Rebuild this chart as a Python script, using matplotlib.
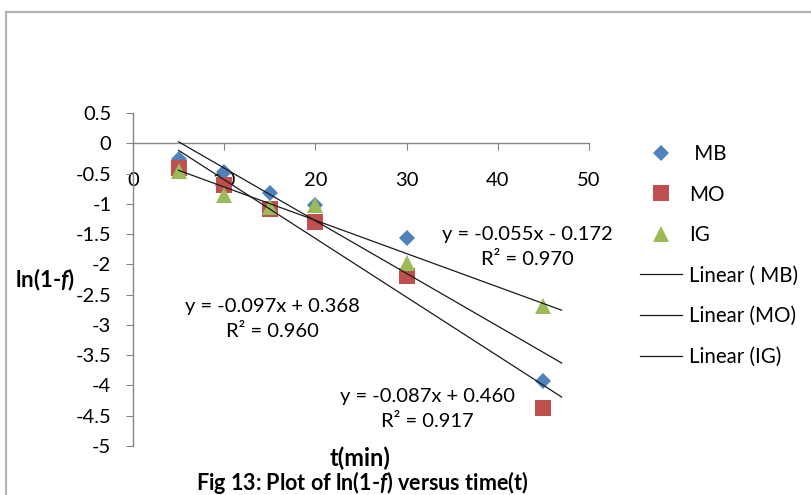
import matplotlib
matplotlib.use("Agg")
import matplotlib.pyplot as plt
from matplotlib.lines import Line2D
import numpy as np

plt.rcParams['font.family'] = ['Lato', 'DejaVu Sans']
plt.rcParams['axes.unicode_minus'] = False
plt.rcParams['mathtext.fontset'] = 'custom'
plt.rcParams['mathtext.it'] = 'Lato:italic:bold'
plt.rcParams['mathtext.rm'] = 'Lato:bold'

# time (min)
time_min = [5, 10, 15, 20, 30, 45]

# ln(1-f) for each dye
mb_vals = [-0.26, -0.48, -0.82, -1.02, -1.56, -3.92]
mo_vals = [-0.41, -0.69, -1.09, -1.30, -2.20, -4.37]
ig_vals = [-0.46, -0.86, -1.06, -1.02, -1.98, -2.69]

series_names = [" MB", "MO", "IG"]
trend_names = ["Linear ( MB)", "Linear (MO)", "Linear (IG)"]

# linear trendline coefficients and R² as printed on the chart
slopes = [-0.087, -0.097, -0.055]
intercepts = [0.460, 0.368, -0.172]
r_squared = [0.917, 0.960, 0.970]
trend_x_range = [5, 47]

x_ticks = [0, 10, 20, 30, 40, 50]
y_ticks = [0.5, 0, -0.5, -1, -1.5, -2, -2.5, -3, -3.5, -4, -4.5, -5]
y_tick_labels = ["0.5", "0", "-0.5", "-1", "-1.5", "-2", "-2.5", "-3", "-3.5", "-4", "-4.5", "-5"]

colors = ["#4F81BD", "#C0504D", "#9BBB59"]
markers = ["D", "s", "^"]
marker_sizes = [8.5, 11, 12]

W, H = 812, 495
fig = plt.figure(figsize=(W / 100, H / 100), dpi=100)

# outer chart frame
frame_col = "#B4B4B4"
fig.add_artist(Line2D([6 / W, 1.0], [1 - 12 / H, 1 - 12 / H], color=frame_col, lw=1.6))
fig.add_artist(Line2D([6 / W, 6 / W], [0, 1 - 12 / H], color=frame_col, lw=1.6))

ax = fig.add_axes([133 / W, 1 - 446 / H, (589 - 133) / W, (446 - 113) / H])
ax.set_xlim(0, 50)
ax.set_ylim(-5, 0.5)

axis_col = "#868686"
for s in ["top", "right"]:
    ax.spines[s].set_visible(False)
ax.spines["left"].set_color(axis_col)
ax.spines["bottom"].set_color(axis_col)
ax.spines["bottom"].set_position(("data", 0))
ax.spines["left"].set_linewidth(1.0)
ax.spines["bottom"].set_linewidth(1.0)

tick_fs = 14.5
ax.set_xticks(x_ticks)
ax.set_xticklabels([str(v) for v in x_ticks])
ax.set_yticks(y_ticks)
ax.set_yticklabels(y_tick_labels)
ax.tick_params(axis="y", direction="out", length=5, color=axis_col, pad=10.5, labelsize=tick_fs)
ax.tick_params(axis="x", direction="out", length=5, color=axis_col, pad=16, labelsize=tick_fs)
ax.patch.set_visible(False)

all_vals = [mb_vals, mo_vals, ig_vals]
handles = []
for vals, c, m, ms, name in zip(all_vals, colors, markers, marker_sizes, series_names):
    h, = ax.plot(time_min, vals, linestyle="none", marker=m, color=c, markersize=ms,
                 markeredgewidth=0, label=name, zorder=3)
    handles.append(h)

tx = np.array(trend_x_range, dtype=float)
for k, name in zip(range(3), trend_names):
    h, = ax.plot(tx, slopes[k] * tx + intercepts[k], color="#1a1a1a", lw=0.9,
                 label=name, zorder=4)
    handles.append(h)


def eq_text(k):
    sign = "+" if intercepts[k] >= 0 else "-"
    return "y = %.3fx %s %.3f\nR² = %.3f" % (slopes[k], sign, abs(intercepts[k]), r_squared[k])


# equation labels: MB, MO, IG (data coordinates of label centres)
label_pos = [(32.3, -4.39), (15.25, -2.90), (43.2, -1.71)]
for k, (lx, ly) in enumerate(label_pos):
    ax.text(lx, ly, eq_text(k), ha="center", va="center", fontsize=tick_fs,
            linespacing=1.55, color="black", zorder=5)

leg_fs = 14.8
leg = fig.legend(handles=handles, labels=[h.get_label() for h in handles],
                 loc="upper left", bbox_to_anchor=(640 / W, 1 - 144 / H),
                 frameon=False, fontsize=leg_fs, handlelength=2.05,
                 handletextpad=0.34, labelspacing=1.0, borderaxespad=0,
                 borderpad=0)

fig.text(45 / W, 1 - 280 / H, r"ln(1-$\it{f}$)", fontsize=16, fontweight="bold",
         ha="center", va="center")
fig.text(360 / W, 1 - 458 / H, "t(min)", fontsize=17, fontweight="bold",
         ha="center", va="center")
fig.text(362 / W, 1 - 483 / H, r"Fig 13: Plot of ln(1-$\it{f}$) versus time(t)",
         fontsize=15.5, fontweight="bold", ha="center", va="center")

fig.savefig("out.png", dpi=100)
